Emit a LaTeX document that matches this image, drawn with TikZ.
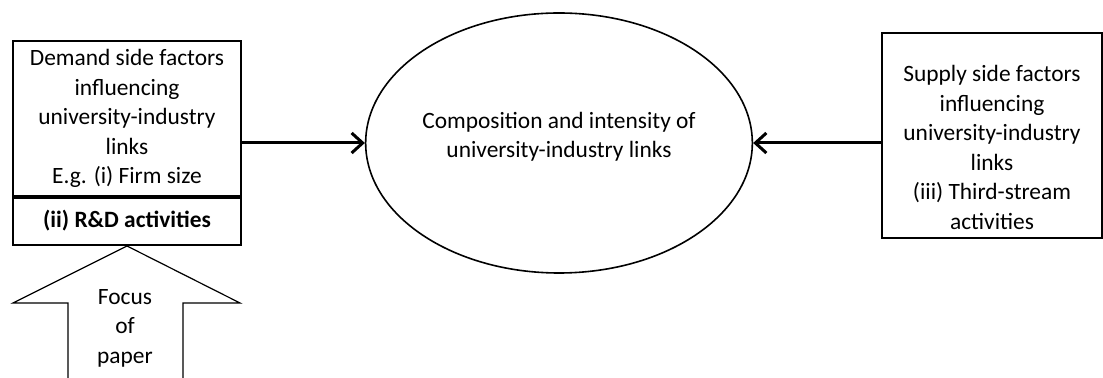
\documentclass[tikz,border=0pt]{standalone}
\usepackage{fontspec}
\setmainfont{Carlito}
\usetikzlibrary{shapes.geometric,arrows.meta}

\begin{document}
\begin{tikzpicture}[x=0.5pt,y=-0.5pt,
  every node/.style={font=\fontsize{11.7}{14.75}\selectfont},
  factorbox/.style={draw,line width=1pt,rectangle,inner sep=0pt,align=center},
  link/.style={line width=1.5pt,-{Straight Barb[length=5.5pt,width=10pt,line width=1.5pt]}}]
  \useasboundingbox (0,0) rectangle (1103,378);

  %draw demand side box
  \node[factorbox,minimum width=114pt,minimum height=77.5pt] (demand) at (127,118.5)
    {Demand side factors\\influencing\\university-industry\\links\\E.g. (i) Firm size};
  \node[factorbox,minimum width=114pt,minimum height=24.5pt,
    font=\fontsize{11.7}{14.75}\selectfont\bfseries] (rd) at (127,220.5) {(ii) R\&D activities};
  \draw[line width=2pt] (demand.south west) -- (demand.south east);

  %draw ellipse
  \node[draw,ellipse,line width=0.8pt,minimum width=191pt,minimum height=130pt,
    inner sep=0pt,align=center,text depth=8pt] (links) at (559,143)
    {Composition and intensity of\\university-industry links};

  %draw supply side box
  \node[factorbox,minimum width=110pt,minimum height=102.5pt] (supply) at (992,135.5) {};
  \node[align=center] (supplytxt) at (992,147.5)
    {Supply side factors\\influencing\\university-industry\\links\\(iii) Third-stream\\activities};

  %draw arrows
  \draw[link] (demand.east |- links.west) -- (links.west);
  \draw[link] (supply.west |- links.east) -- (links.east);

  %draw focus arrow
  \draw[line width=0.6pt] (68,378) -- (68,303) -- (13,303) -- (rd.south)
    -- (240,303) -- (183,303) -- (183,378);
  \node[align=center] (focus) at (125,328) {Focus\\of\\paper};
\end{tikzpicture}
\end{document}
